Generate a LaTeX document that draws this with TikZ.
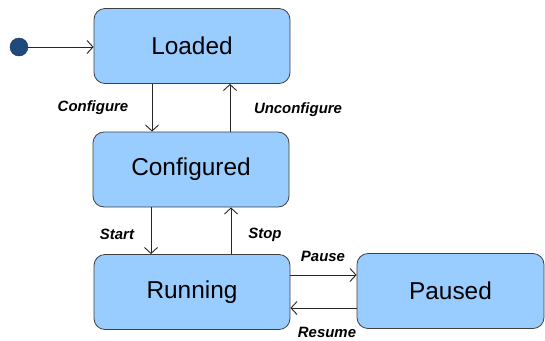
\documentclass[tikz,border=0pt]{standalone}
\usepackage{fontspec}
\setmainfont{Liberation Sans}
\usetikzlibrary{arrows.meta}
\definecolor{boxfill}{HTML}{99CCFF}
\definecolor{boxdraw}{HTML}{404040}
\definecolor{dotfill}{HTML}{1F4A7D}
\begin{document}
\begin{tikzpicture}[x=1bp,y=-1bp,
  state/.style={draw=boxdraw,fill=boxfill,rounded corners=11bp,line width=0.8bp,
    minimum width=196bp,minimum height=75bp,inner sep=0pt,font=\fontsize{24.5}{27}\selectfont},
  lbl/.style={font=\fontsize{15}{17}\selectfont\bfseries\itshape,inner sep=0pt},
  tr/.style={draw=black!85,line width=0.9bp,-{Straight Barb[length=6bp,width=13bp]}}]
\useasboundingbox (0,0) rectangle (545,340);
\node[state] (loaded) at (192,46) {Loaded};
\node[state] (conf) at (191,169.5) {Configured};
\node[state] (run) at (192,292) {Running};
\node[state,minimum width=187bp] (paused) at (450.5,291) {Paused};
\node[circle,fill=dotfill,draw=dotfill!70!black,minimum size=18bp,inner sep=0pt] (init) at (19,47) {};
\draw[tr] (init.east) -- (loaded.west|-init);
\draw[tr] (loaded.south-|152,0) -- (conf.north-|152,0);
\draw[tr] (conf.north-|230,0) -- (loaded.south-|230,0);
\draw[tr] (conf.south-|151,0) -- (run.north-|151,0);
\draw[tr] (run.north-|231,0) -- (conf.south-|231,0);
\draw[tr] (run.east|-0,275) -- (paused.west|-0,275);
\draw[tr] (paused.west|-0,308) -- (run.east|-0,308);
\node[lbl] (l1) at (93,108) {Configure};
\node[lbl] (l2) at (298,110) {Unconfigure};
\node[lbl] (l3) at (117,234) {Start};
\node[lbl] (l4) at (265,235) {Stop};
\node[lbl] (l5) at (323,256) {Pause};
\node[lbl] (l6) at (327,332) {Resume};
\end{tikzpicture}
\end{document}
